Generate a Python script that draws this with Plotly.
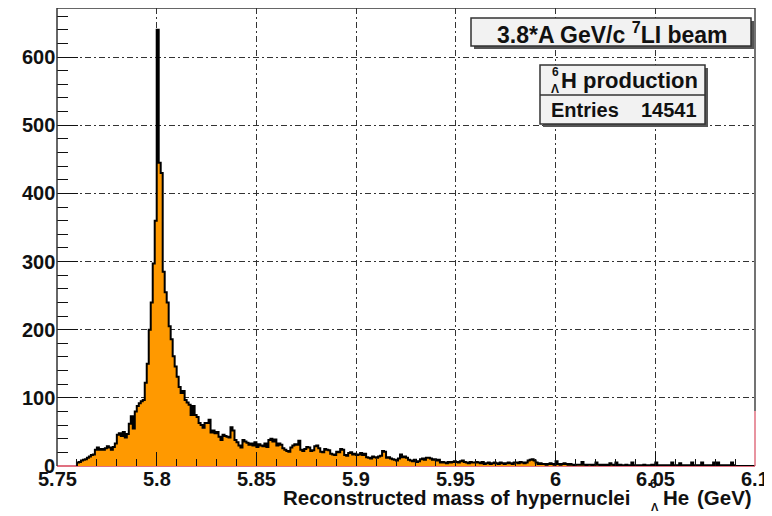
import plotly.graph_objects as go

# ---------------- data ----------------
bin_start = 5.760
bin_width = 0.001
counts = [
    5, 6, 8, 9, 10, 12, 14, 16, 17, 24,
    27, 24, 25, 24, 26, 29, 27, 24, 28, 33,
    46, 48, 44, 50, 42, 47, 62, 73, 55, 80,
    88, 92, 95, 97, 122, 150, 200, 240, 297, 360,
    640, 445, 430, 285, 255, 240, 205, 186, 161, 146,
    131, 116, 107, 110, 97, 93, 90, 75, 88, 75,
    72, 63, 60, 56, 63, 63, 68, 49, 52, 48,
    50, 43, 38, 46, 44, 43, 42, 57, 52, 38,
    35, 30, 27, 38, 36, 34, 31, 33, 30, 35,
    28, 32, 30, 29, 33, 28, 38, 40, 36, 39,
    30, 33, 31, 26, 24, 22, 21, 27, 30, 32,
    31, 37, 24, 22, 25, 28, 27, 22, 23, 29,
    30, 26, 21, 20, 25, 24, 23, 18, 17, 16,
    21, 20, 25, 24, 16, 15, 19, 20, 17, 18,
    16, 17, 19, 16, 18, 13, 12, 11, 14, 13,
    12, 14, 15, 22, 21, 12, 13, 11, 10, 9,
    8, 11, 17, 13, 14, 12, 9, 8, 7, 9,
    6, 7, 10, 11, 9, 12, 12, 11, 9, 10,
    8, 9, 5, 6, 5, 4, 6, 5, 6, 7,
    6, 5, 7, 8, 6, 5, 4, 6, 5, 5,
    6, 5, 4, 6, 3, 4, 5, 3, 4, 5,
    4, 3, 5, 4, 3, 4, 5, 4, 3, 5,
    5, 4, 6, 5, 4, 5, 8, 9, 10, 8,
    5, 3, 4, 3, 3, 2, 3, 4, 3, 2,
    7, 3, 2, 3, 4, 3, 2, 3, 2, 1,
    2, 2, 2, 6, 2, 1, 2, 2, 1, 2,
    5, 2, 1, 2, 1, 2, 1, 4, 2, 1,
    5, 1, 2, 1, 1, 2, 1, 1, 5, 1,
    1, 0, 1, 1, 2, 1, 1, 1, 2, 1,
    5, 0, 1, 1, 1, 1, 1, 1, 5, 1,
    1, 1, 4, 0, 1, 1, 1, 1, 5, 1,
    1, 1, 1, 5, 1, 0, 1, 1, 1, 5,
    1, 5, 1, 0, 1, 1, 1, 1, 5, 1,
    0, 0, 0, 0, 0, 0, 0, 0, 0, 0,
]
x_tickvals = [5.75, 5.8, 5.85, 5.9, 5.95, 6.0, 6.05, 6.1]
x_ticktext = ["5.75", "5.8", "5.85", "5.9", "5.95", "6", "6.05", "6.1"]
y_tickvals = [0, 100, 200, 300, 400, 500, 600]
y_ticktext = ["0", "100", "200", "300", "400", "500", "600"]
beam_label = "3.8*A GeV/c <sup>7</sup>LI beam"
stat_title = "H production"
entries_label = "Entries"
entries_value = "14541"
x_title_main = "Reconstructed mass of hypernuclei"

# ---------------- geometry ----------------
# The page body has an 8px default margin, so the figure is placed at (8, 8) in the window.
OFF = 8
WX0, WX1, WY0, WY1 = 57, 755, 8, 466          # plot area in window pixels
W, H = 772 - OFF, 516 - OFF
L, T = WX0 - OFF, WY0 - OFF
PW, PH = WX1 - WX0, WY1 - WY0
R, B = W - L - PW, H - T - PH


def px(xp):
    return (xp - WX0) / PW


def py(yp):
    return (WY1 - yp) / PH


n = len(counts)
edges = [bin_start + k * bin_width for k in range(n + 1)]
step_x = [edges[0]] + edges[:-1] + [edges[-1], edges[-1]]
step_y = [0] + counts + [counts[-1], 0]

ORANGE = "#FF9900"
FONT = "Liberation Sans"
TXT = "#111"

fig = go.Figure()
fig.add_trace(go.Scatter(
    x=step_x, y=step_y, mode="lines", line=dict(shape="hv", color="black", width=2),
    fill="tozeroy", fillcolor=ORANGE, cliponaxis=False, hoverinfo="skip", showlegend=False,
))

grid_dash = "6px,3px,2px,3px"
fig.update_layout(
    width=W, height=H,
    margin=dict(l=L, r=R, t=T, b=B, pad=0, autoexpand=False),
    paper_bgcolor="white", plot_bgcolor="white",
    font=dict(family=FONT, color=TXT),
    xaxis=dict(
        range=[5.75, 6.1], tickmode="array", tickvals=x_tickvals, ticktext=x_ticktext,
        showticklabels=False, automargin=False,
        ticks="inside", ticklen=14, tickwidth=1.2, tickcolor=TXT,
        minor=dict(ticks="inside", ticklen=7, dtick=0.01, tick0=5.75, tickcolor=TXT, tickwidth=1.2, showgrid=False),
        showgrid=True, gridcolor="#333", gridwidth=1, griddash=grid_dash,
        showline=False, zeroline=False,
    ),
    yaxis=dict(
        range=[0, 672], tickmode="array", tickvals=y_tickvals, ticktext=y_ticktext,
        showticklabels=False, automargin=False,
        ticks="inside", ticklen=21, tickwidth=1.2, tickcolor=TXT,
        minor=dict(ticks="inside", ticklen=11, dtick=20, tick0=0, tickcolor=TXT, tickwidth=1.2, showgrid=False),
        showgrid=True, gridcolor="#333", gridwidth=1, griddash=grid_dash,
        showline=False, zeroline=False,
    ),
)

shapes = []
shapes.append(dict(type="line", xref="paper", yref="paper", x0=0, x1=1, y0=0, y1=0,
                   line=dict(color="#e07080", width=2), layer="below"))
shapes.append(dict(type="line", xref="paper", yref="paper", x0=0, x1=1, y0=1, y1=1,
                   line=dict(color="#333", width=1.5), layer="above"))
shapes.append(dict(type="line", xref="paper", yref="paper", x0=0, x1=0, y0=0, y1=1,
                   line=dict(color="#333", width=1.5), layer="above"))
shapes.append(dict(type="line", xref="paper", yref="paper", x0=1, x1=1, y0=0.12, y1=1,
                   line=dict(color="#444", width=1.5), layer="above"))
shapes.append(dict(type="line", xref="paper", yref="paper", x0=1, x1=1, y0=0, y1=0.12,
                   line=dict(color="#e07080", width=1.5), layer="above"))


def box(x0, y0, x1, y1):
    shapes.append(dict(type="rect", xref="paper", yref="paper",
                       x0=px(x0 + 3), x1=px(x1 + 3), y0=py(y1 + 3), y1=py(y0 + 3),
                       fillcolor="#555", line=dict(width=0), layer="above"))
    shapes.append(dict(type="rect", xref="paper", yref="paper",
                       x0=px(x0), x1=px(x1), y0=py(y1), y1=py(y0),
                       fillcolor="#f2f2f2", line=dict(color="#333", width=1.5), layer="above"))


box(471, 18, 751, 46)
box(540, 65, 705, 124)
shapes.append(dict(type="line", xref="paper", yref="paper", x0=px(540), x1=px(705), y0=py(95), y1=py(95),
                   line=dict(color="#333", width=1.5), layer="above"))

annotations = []


def text(t, x, y, size, xanchor="center", yanchor="middle", xref="paper", yref="paper"):
    annotations.append(dict(text=t, x=x, y=y, xref=xref, yref=yref,
                            xanchor=xanchor, yanchor=yanchor, showarrow=False,
                            font=dict(family=FONT, size=size, color=TXT, weight="bold")))


def ptext(t, x, y, size, xanchor="center"):
    text(t, px(x), py(y), size, xanchor=xanchor)


for v, lab in zip(x_tickvals, x_ticktext):
    text(lab, v, py(479), 20, xref="x")
for v, lab in zip(y_tickvals, y_ticktext):
    text(lab, px(57), v, 20, xanchor="right", yref="y")

ptext(beam_label, 612, 33, 23)
ptext("6", 555, 72, 12)
ptext("Λ", 555, 89, 12)
ptext(stat_title, 559, 81, 22, xanchor="left")
ptext(entries_label, 549, 110, 20, xanchor="left")
ptext(entries_value, 699, 110, 20, xanchor="right")

ptext(x_title_main, 281, 497, 20.5, xanchor="left")
ptext("6", 653, 484, 12)
ptext("Λ", 655, 507, 11)
ptext("He", 661, 497, 20.5, xanchor="left")
ptext("(GeV)", 754, 497, 20.5, xanchor="right")

fig.update_layout(shapes=shapes, annotations=annotations)
fig.write_html("out.html")
